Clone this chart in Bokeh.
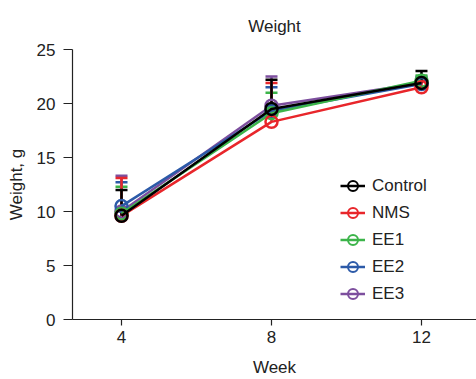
from bokeh.plotting import figure
from bokeh.models import Whisker, ColumnDataSource, Legend, LegendItem, TeeHead, Range1d
from bokeh.embed import file_html
from bokeh.resources import INLINE

weeks = [4, 8, 12]
groups = ["Control", "NMS", "EE1", "EE2", "EE3"]
means = {
    "Control": [9.6, 19.5, 21.9],
    "NMS": [9.6, 18.3, 21.5],
    "EE1": [9.8, 19.1, 22.1],
    "EE2": [10.5, 19.3, 21.8],
    "EE3": [10.0, 19.8, 21.9],
}
uppers = {
    "Control": [12.0, 22.2, 23.0],
    "NMS": [13.1, 21.9, 22.1],
    "EE1": [12.3, 21.0, 22.6],
    "EE2": [12.7, 21.5, 22.4],
    "EE3": [13.3, 22.5, 22.5],
}
colors = {
    "Control": "#000000",
    "NMS": "#e8262b",
    "EE1": "#3cb44a",
    "EE2": "#2c5aa8",
    "EE3": "#7d4f9e",
}
FONT = "Liberation Sans"
FS = "17px"

p = figure(width=476, height=379, output_backend="svg", toolbar_location=None,
           x_range=Range1d(2.693, 13.467), y_range=Range1d(0, 25),
           min_border_left=72, min_border_right=0, min_border_top=48, min_border_bottom=59,
           title="Weight")
p.title.align = "center"
p.title.offset = -12
p.title.standoff = 28
p.title.text_font = FONT
p.title.text_font_style = "normal"
p.title.text_font_size = FS
p.title.text_color = "#222222"
p.outline_line_color = None
p.xgrid.visible = False
p.ygrid.visible = False

for ax in (p.xaxis, p.yaxis):
    ax.axis_line_color = "#222222"
    ax.axis_line_width = 1.2
    ax.major_tick_line_color = "#222222"
    ax.major_tick_line_width = 1.2
    ax.major_tick_in = 0
    ax.minor_tick_line_color = None
    ax.major_label_text_font = FONT
    ax.major_label_text_font_size = FS
    ax.major_label_text_color = "#222222"
    ax.axis_label_text_font = FONT
    ax.axis_label_text_font_size = FS
    ax.axis_label_text_font_style = "normal"
    ax.axis_label_text_color = "#222222"

p.xaxis.major_tick_out = 6
p.xaxis.major_label_standoff = 5
p.xaxis.axis_label_standoff = 12
p.yaxis.major_tick_out = 9
p.yaxis.major_label_standoff = 8
p.yaxis.axis_label_standoff = 8

p.xaxis.ticker = weeks
p.yaxis.ticker = [0, 5, 10, 15, 20, 25]
p.xaxis.axis_label = "Week"
p.yaxis.axis_label = "Weight, g"

legend_renderers = {}
for g in reversed(groups):
    src = ColumnDataSource(dict(x=weeks, y=means[g], up=uppers[g]))
    w = Whisker(base="x", lower="y", upper="up", source=src, dimension="height",
                line_color=colors[g], line_width=2.5,
                upper_head=TeeHead(size=12, line_color=colors[g], line_width=2.5),
                lower_head=None)
    p.add_layout(w)
    p.line("x", "y", source=src, line_color=colors[g], line_width=2.5)
    p.scatter("x", "y", source=src, marker="circle", size=12, fill_color=None,
              line_color=colors[g], line_width=2.5)
    off = ColumnDataSource(dict(x=[-100], y=[-100]))
    ll = p.line("x", "y", source=off, line_color=colors[g], line_width=2.5)
    lc = p.scatter("x", "y", source=off, marker="circle", size=8, fill_color=None,
                   line_color=colors[g], line_width=2)
    legend_renderers[g] = [ll, lc]

legend = Legend(items=[LegendItem(label=g, renderers=legend_renderers[g]) for g in groups],
                location=(268, 12))
legend.border_line_color = None
legend.background_fill_alpha = 0
legend.padding = 0
legend.margin = 0
legend.spacing = 0
legend.label_height = 27
legend.glyph_height = 27
legend.glyph_width = 25
legend.label_standoff = 7
legend.label_text_font = FONT
legend.label_text_font_size = FS
legend.label_text_color = "#222222"
p.add_layout(legend, "center")

open("out.html", "w").write(file_html(p, INLINE))
